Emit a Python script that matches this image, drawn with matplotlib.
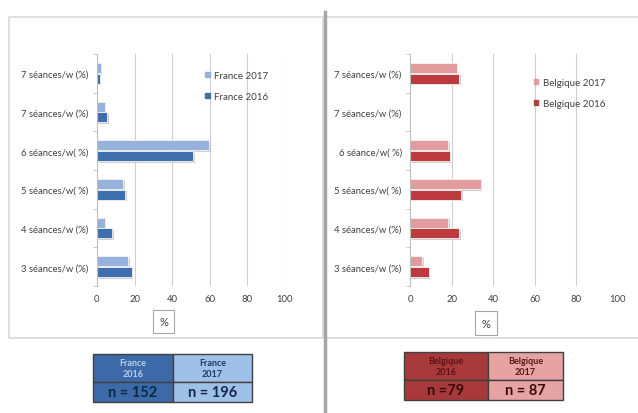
import numpy as np
import matplotlib.pyplot as plt
import matplotlib.patheffects as pe
from matplotlib.patches import Rectangle, Patch

plt.rcParams['font.family'] = ['Lato', 'DejaVu Sans']

# categories, bottom to top
fr_labels = ['3 séances/w (%)', '4 séances/w (%)', '5 séances/w( %)',
             '6 séances/w( %)', '7 séances/w (%)', '7 séances/w (%)']
be_labels = ['3 séances/w (%)', '4 séances/w (%)', '5 séances/w( %)',
             '6 séance/w( %)', '7 séances/w (%)', '7 séances/w (%)']

france_2017 = [16.5, 4, 14, 59.5, 4, 2]
france_2016 = [18.5, 8, 15, 51, 5.5, 1.5]
belgique_2017 = [6, 18.5, 34, 18.5, 0, 22.5]
belgique_2016 = [9, 23.5, 24.5, 19, 0, 23.5]

fr_n = [152, 196]
be_n = [79, 87]

fig = plt.figure(figsize=(6.38, 4.14), dpi=100)
W, H = 638, 414


def px(x0, y0, x1, y1):
    # pixel box (top-left origin) -> figure fraction rect
    return [x0 / W, 1 - y1 / H, (x1 - x0) / W, (y1 - y0) / H]


# panel frames and the separator
for x0, x1 in [(9, 323), (326, 645)]:
    fig.patches.append(Rectangle((x0 / W, 1 - 339 / H), (x1 - x0) / W, (339 - 18) / H,
                                 transform=fig.transFigure, fill=False,
                                 edgecolor='#d9d9d9', lw=1.2))
fig.add_artist(plt.Line2D([324.5 / W, 324.5 / W], [0, 1 - 13 / H],
                          transform=fig.transFigure, color='#a6a6a6', lw=2.5))

shadow = [pe.SimplePatchShadow(offset=(1.2, -1.2), shadow_rgbFace='#b0b0b0', alpha=0.6),
          pe.Normal()]


def panel(rect, labels, v17, v16, c17, c16, name, lab_box, pct_xy):
    ax = fig.add_axes(rect)
    y = np.arange(len(labels))
    h = 0.26
    b1 = ax.barh(y + h / 2 + 0.01, v17, height=h, color=c17, edgecolor='#f4f4f4', lw=0.6)
    b2 = ax.barh(y - h / 2 - 0.01, v16, height=h, color=c16, edgecolor='#f4f4f4', lw=0.6)
    for b in list(b1) + list(b2):
        b.set_path_effects(shadow)
    ax.set_xlim(0, 100)
    ax.set_ylim(-0.5, len(labels) - 0.5)
    ax.set_xticks([0, 20, 40, 60, 80, 100])
    ax.set_yticks(y)
    ax.set_yticklabels(labels)
    ax.set_yticks(np.arange(-0.5, len(labels)), minor=True)
    ax.tick_params(axis='y', which='major', length=0, pad=6, labelsize=6.8,
                   labelcolor='#404040')
    ax.tick_params(axis='y', which='minor', length=3, color='#bfbfbf')
    ax.tick_params(axis='x', length=0, pad=6, labelsize=6.8, labelcolor='#404040')
    ax.grid(axis='x', color='#d0d0d0', lw=0.8)
    ax.set_axisbelow(True)
    for s in ['top', 'right', 'bottom']:
        ax.spines[s].set_visible(False)
    ax.spines['left'].set_color('#bfbfbf')
    handles = [Patch(color=c17, label=name + ' 2017'), Patch(color=c16, label=name + ' 2016')]
    leg = ax.legend(handles=handles, loc='upper left', bbox_to_anchor=lab_box,
                    frameon=False, fontsize=7, handlelength=0.45, handleheight=0.45,
                    labelspacing=1.3, handletextpad=0.5, borderaxespad=0)
    for t in leg.get_texts():
        t.set_color('#404040')
    # boxed axis unit under the scale
    fig.text(pct_xy[0] / W, 1 - pct_xy[1] / H, '%', ha='center', va='center',
             fontsize=8, color='#404040',
             bbox=dict(boxstyle='square,pad=0.55', fc='white', ec='#a6a6a6', lw=0.8))
    return ax


panel(px(97, 55, 285, 287), fr_labels, france_2017, france_2016,
      '#95b1dc', '#3e6fae', 'France', (0.555, 0.945), (163.5, 322.5))
panel(px(410, 55, 618, 287), be_labels, belgique_2017, belgique_2016,
      '#e29c9e', '#bd3b3e', 'Belgique', (0.578, 0.915), (486, 324))


def table(x0, xm, x1, y0, ym, y1, name, ns, fills, head_cols, n_cols):
    cols = [(x0, xm), (xm, x1)]
    years = ['2016', '2017']
    for i, (a, b) in enumerate(cols):
        for top, bot in [(y0, ym), (ym, y1)]:
            fig.patches.append(Rectangle((a / W, 1 - bot / H), (b - a) / W, (bot - top) / H,
                                         transform=fig.transFigure, facecolor=fills[i],
                                         edgecolor='#404040', lw=1.0))
        cx = (a + b) / 2 / W
        fig.text(cx, 1 - (y0 + ym) / 2 / H, name + '\n' + years[i], ha='center',
                 va='center', fontsize=6.5, fontweight='bold', color=head_cols[i],
                 linespacing=1.2)
        fig.text(cx, 1 - (ym + y1) / 2 / H, ns[i], ha='center', va='center',
                 fontsize=10.5, fontweight='bold', color=n_cols[i])


table(93, 172.5, 252, 355, 383, 403, 'France', ['n = %d' % fr_n[0], 'n = %d' % fr_n[1]],
      ['#3c6aa8', '#9fc1e7'], ['#b9cfee', '#1f3a63'], ['#0f2746', '#14294a'])
table(404, 488, 563, 353, 381, 401, 'Belgique', ['n =%d' % be_n[0], 'n = %d' % be_n[1]],
      ['#a8393a', '#e6a3a4'], ['#5a1416', '#5a1416'], ['#3a0a0b', '#3a0a0b'])

fig.savefig('out.png', dpi=100, facecolor='white')
